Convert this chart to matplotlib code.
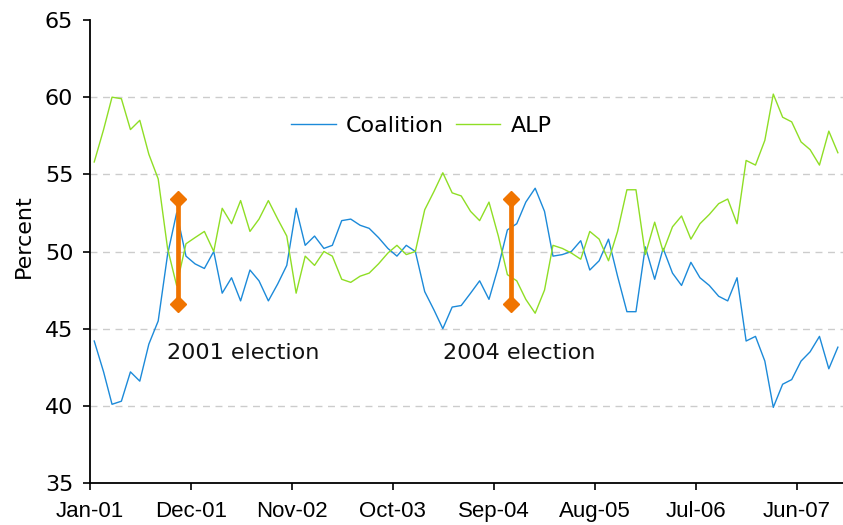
import pandas as pd
import matplotlib
matplotlib.use('Agg')
import matplotlib.pyplot as plt
import matplotlib.dates as mdates

# monthly two-party preferred, Jan-01 to Oct-07
alp = [55.8, 57.9, 60.0, 59.9, 57.9, 58.5, 56.3, 54.7, 50.2, 47.8,
       50.5, 50.9, 51.3, 50.0, 52.8, 51.8, 53.3, 51.3, 52.1, 53.3,
       52.1, 51.0, 47.3, 49.7, 49.1, 50.0, 49.7, 48.2, 48.0, 48.4,
       48.6, 49.2, 49.9, 50.4, 49.8, 50.0, 52.7, 53.9, 55.1, 53.8,
       53.6, 52.6, 52.0, 53.2, 51.0, 48.5, 48.1, 46.9, 46.0, 47.5,
       50.4, 50.2, 49.9, 49.5, 51.3, 50.8, 49.4, 51.3, 54.0, 54.0,
       49.8, 51.9, 50.0, 51.6, 52.3, 50.8, 51.8, 52.4, 53.1, 53.4,
       51.8, 55.9, 55.6, 57.2, 60.2, 58.7, 58.4, 57.1, 56.6, 55.6,
       57.8, 56.4]
coalition = [44.2, 42.2, 40.1, 40.3, 42.2, 41.6, 44.0, 45.5, 49.8, 52.5,
             49.7, 49.2, 48.9, 50.0, 47.3, 48.3, 46.8, 48.8, 48.1, 46.8,
             47.9, 49.1, 52.8, 50.4, 51.0, 50.2, 50.4, 52.0, 52.1, 51.7,
             51.5, 50.9, 50.2, 49.7, 50.4, 50.0, 47.4, 46.2, 45.0, 46.4,
             46.5, 47.3, 48.1, 46.9, 49.0, 51.4, 51.8, 53.2, 54.1, 52.6,
             49.7, 49.8, 50.0, 50.7, 48.8, 49.4, 50.8, 48.4, 46.1, 46.1,
             50.3, 48.2, 50.2, 48.6, 47.8, 49.3, 48.3, 47.8, 47.1, 46.8,
             48.3, 44.2, 44.5, 42.9, 39.9, 41.4, 41.7, 42.9, 43.5, 44.5,
             42.4, 43.8]
dates = pd.date_range('2001-01-01', periods=len(alp), freq='MS') + pd.Timedelta(days=14)

election_dates = pd.to_datetime(['2001-10-21', '2004-10-28'])
election_labels = ['2001 election', '2004 election']
election_label_dates = pd.to_datetime(['2001-09-13', '2004-03-15'])
election_range = [46.6, 53.4]

tick_dates = pd.date_range('2001-01-01', '2007-06-01', freq='11MS')

blue = '#1c8ad9'
green = '#8fde25'
orange = '#f07400'

fig = plt.figure(figsize=(8.43, 5.25), dpi=100)
ax = fig.add_axes([90/843, 42/525, 753/843, 463/525])

for y in [40, 45, 50, 55, 60]:
    ax.axhline(y, color='#cccccc', lw=1.0, linestyle=(0, (5, 4)), zorder=0)

ax.plot(dates, coalition, color=blue, lw=1.0, label='Coalition')
ax.plot(dates, alp, color=green, lw=1.0, label='ALP')

for d, lab, ld in zip(election_dates, election_labels, election_label_dates):
    ax.plot([d, d], election_range, color=orange, lw=3.4, marker='D',
            markersize=8, zorder=5)
    ax.text(ld, 43.45, lab, fontsize=16, ha='left', va='center', color='#111111')

ax.set_ylim(35, 65)
ax.set_yticks([35, 40, 45, 50, 55, 60, 65])
ax.set_xlim(pd.Timestamp('2001-01-01'), pd.Timestamp('2007-11-01'))
ax.set_xticks(tick_dates)
ax.xaxis.set_major_formatter(mdates.DateFormatter('%b-%y'))

for s in ['top', 'right']:
    ax.spines[s].set_visible(False)
for s in ['left', 'bottom']:
    ax.spines[s].set_linewidth(1.3)
    ax.spines[s].set_color('black')

ax.tick_params(axis='y', labelsize=16, length=5, width=1.2, pad=7)
ax.tick_params(axis='x', labelsize=16, length=5, width=1.2, pad=8)
for t in ax.get_xticklabels():
    t.set_fontfamily('Liberation Sans')

fig.text(23.5/843, 1 - 236.5/525, 'Percent', rotation=90, ha='center',
         va='center', fontsize=16)

ax.legend(ncol=2, frameon=False, loc='center', bbox_to_anchor=(0.44, 0.771),
          fontsize=16, handlelength=2.0, handletextpad=0.45, columnspacing=0.55)

plt.savefig('out.png', dpi=100)
